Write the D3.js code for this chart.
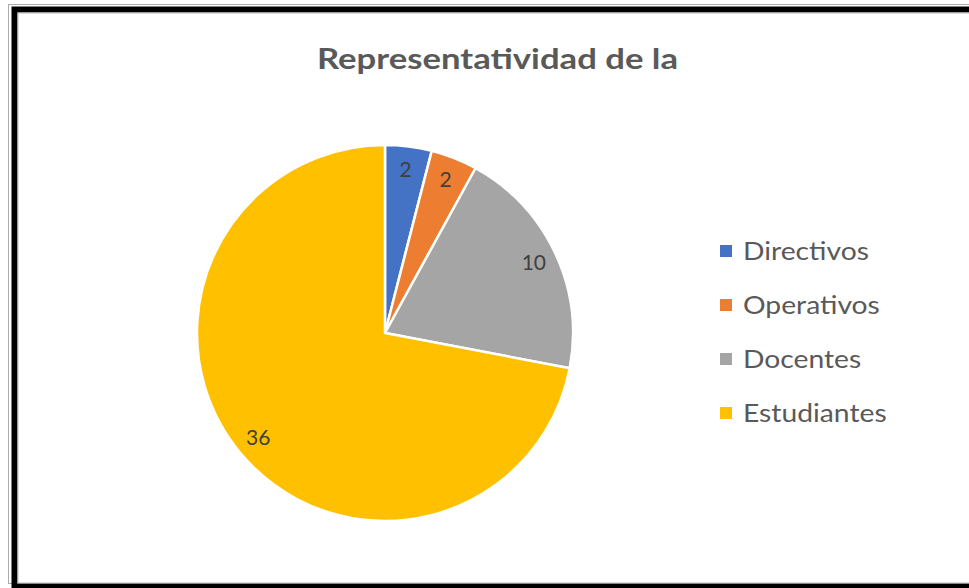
<!DOCTYPE html>
<html><head><meta charset="utf-8">
<script src="https://cdn.jsdelivr.net/npm/d3@7"></script>
<style>body{margin:0;background:#fff;overflow:hidden}svg{display:block}</style>
</head><body>
<svg id="c" width="969" height="588"></svg>
<script>
const categories = ["Directivos", "Operativos", "Docentes", "Estudiantes"];
const values = [2, 2, 10, 36];
const colors = ["#4472C4", "#ED7D31", "#A5A5A5", "#FFC000"];
const title = "Representatividad de la";

const svg = d3.select("#c");
const W = 969, H = 588;
const font = "Lato, 'Open Sans', sans-serif";

// frame (double border)
const frame = svg.append("g");
frame.append("rect").attr("x", 8.5).attr("y", 4.5).attr("width", W + 10).attr("height", 579).attr("fill", "none").attr("stroke", "#aaa").attr("stroke-width", 1);
frame.append("rect").attr("x", 14.5).attr("y", 9.5).attr("width", W + 10).attr("height", 577).attr("fill", "none").attr("stroke", "#000").attr("stroke-width", 6);
frame.append("rect").attr("x", 18).attr("y", 13).attr("width", W).attr("height", 570).attr("fill", "#fff").attr("stroke", "#bbb").attr("stroke-width", 1);

svg.append("text").attr("x", 317).attr("y", 69)
  .attr("font-family", font).attr("font-weight", "bold").attr("font-size", 29)
  .attr("textLength", 361).attr("lengthAdjust", "spacingAndGlyphs")
  .attr("fill", "#595959").text(title);

const cx = 385, cy = 333, r = 188;
const pie = d3.pie().sort(null).value(d => d);
const arcs = pie(values);
const arc = d3.arc().innerRadius(0).outerRadius(r);
const labelArc = d3.arc().innerRadius(r * 0.875).outerRadius(r * 0.875);
const color = d3.scaleOrdinal().domain(categories).range(colors);

const g = svg.append("g").attr("transform", `translate(${cx},${cy})`);
g.selectAll("path").data(arcs).join("path")
  .attr("d", arc).attr("fill", (d, i) => color(categories[i]))
  .attr("stroke", "#fff").attr("stroke-width", 2.5).attr("stroke-linejoin", "round");
g.selectAll("text").data(arcs).join("text")
  .attr("transform", d => `translate(${labelArc.centroid(d)})`)
  .attr("text-anchor", "middle").attr("dy", "0.35em")
  .attr("font-family", font).attr("font-size", 21).attr("fill", "#404040")
  .text(d => d.data);

const leg = svg.append("g");
const rows = leg.selectAll("g").data(categories).join("g")
  .attr("transform", (d, i) => `translate(720,${251 + i * 54})`);
rows.append("rect").attr("x", 0).attr("y", -6).attr("width", 12).attr("height", 12).attr("fill", d => color(d));
rows.append("text").attr("x", 23).attr("y", 0).attr("dy", "0.36em")
  .attr("font-family", font).attr("font-size", 25).attr("fill", "#595959").text(d => d)
  .each(function () {
    const w = this.getComputedTextLength();
    d3.select(this).attr("textLength", w * 1.13).attr("lengthAdjust", "spacingAndGlyphs");
  });
</script>
</body></html>
